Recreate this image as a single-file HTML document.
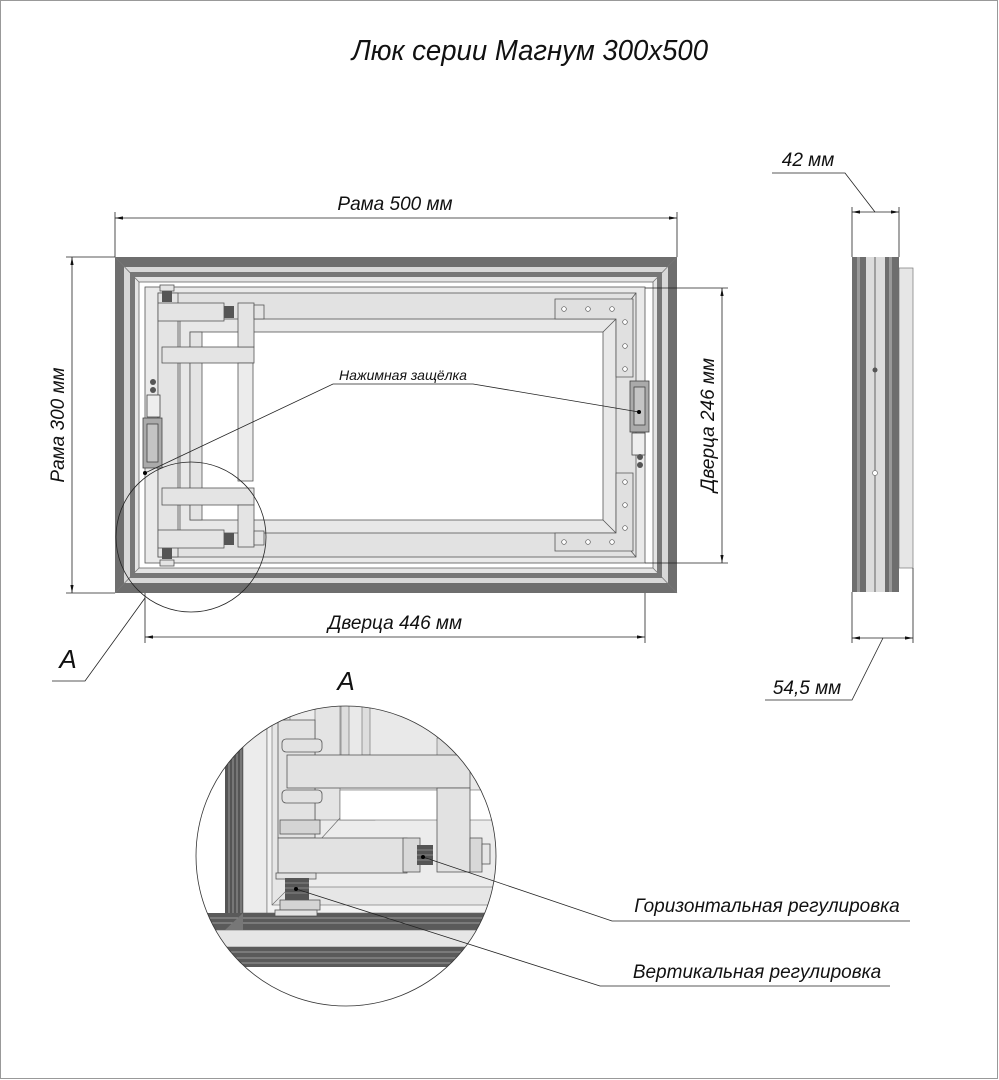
<!DOCTYPE html>
<html><head><meta charset="utf-8"><style>
html,body{margin:0;padding:0;background:#fff;width:999px;height:1080px;overflow:hidden}
svg{display:block}
text{font-family:"Liberation Sans",sans-serif;font-style:italic;fill:#111}
</style></head><body>
<svg width="999" height="1080" viewBox="0 0 999 1080" xmlns="http://www.w3.org/2000/svg">
<defs>
<marker id="ar" viewBox="0 0 10 6" refX="10" refY="3" markerWidth="10" markerHeight="6" orient="auto-start-reverse"><path d="M0,1 L10,3 L0,5 Z" fill="#111"/></marker>
<clipPath id="cc"><circle cx="346" cy="856" r="150"/></clipPath>
</defs>
<rect x="0.5" y="0.5" width="997" height="1078" fill="none" stroke="#999"/>

<!-- Title -->
<text x="530" y="60" font-size="29" text-anchor="middle" transform="translate(530 0) scale(0.95 1) translate(-530 0)">Люк серии Магнум 300x500</text>

<!-- Main frame -->
<rect x="115" y="257" width="562" height="336" fill="#6e6e6e"/>
<rect x="124" y="267" width="544" height="316" fill="#d8d8d8"/>
<rect x="130" y="272" width="532" height="306" fill="#777"/>
<rect x="135" y="277" width="522" height="296" fill="#e4e4e4"/>
<rect x="139" y="282" width="514" height="286" fill="#fff" stroke="#666" stroke-width="0.8"/>
<g stroke="#777" stroke-width="0.8">
<line x1="115" y1="257" x2="139" y2="282"/><line x1="677" y1="257" x2="653" y2="282"/>
<line x1="115" y1="593" x2="139" y2="568"/><line x1="677" y1="593" x2="653" y2="568"/>
</g>
<!-- door -->
<rect x="145" y="287" width="500" height="276" fill="#eaeaea" stroke="#555" stroke-width="0.8"/>
<rect x="158" y="293" width="478" height="264" fill="#e2e2e2" stroke="#555" stroke-width="0.8"/>
<rect x="180" y="319" width="436" height="214" fill="#e8e8e8" stroke="#555" stroke-width="0.8"/>
<rect x="190" y="332" width="413" height="188" fill="#fff" stroke="#555" stroke-width="0.8"/>
<g stroke="#555" stroke-width="0.8">
<line x1="158" y1="293" x2="180" y2="319"/><line x1="636" y1="293" x2="616" y2="319"/>
<line x1="158" y1="557" x2="180" y2="533"/><line x1="636" y1="557" x2="616" y2="533"/>
<line x1="603" y1="332" x2="616" y2="319"/><line x1="603" y1="520" x2="616" y2="533"/>
</g>
<!-- right corner plates -->
<g fill="#e0e0e0" stroke="#555" stroke-width="0.8">
<path d="M555,299 L633,299 L633,377 L616,377 L616,319 L555,319 Z"/>
<path d="M555,551 L633,551 L633,473 L616,473 L616,533 L555,533 Z"/>
</g>
<g fill="#fff" stroke="#555" stroke-width="0.7">
<circle cx="564" cy="309" r="2.3"/><circle cx="588" cy="309" r="2.3"/><circle cx="612" cy="309" r="2.3"/>
<circle cx="625" cy="322" r="2.3"/><circle cx="625" cy="346" r="2.3"/><circle cx="625" cy="369" r="2.3"/>
<circle cx="564" cy="542" r="2.3"/><circle cx="588" cy="542" r="2.3"/><circle cx="612" cy="542" r="2.3"/>
<circle cx="625" cy="482" r="2.3"/><circle cx="625" cy="505" r="2.3"/><circle cx="625" cy="528" r="2.3"/>
</g>
<!-- hinges left -->
<g fill="#e4e4e4" stroke="#555" stroke-width="0.8">
<rect x="158" y="293" width="20" height="264"/>
<rect x="190" y="332" width="12" height="188"/>
<rect x="158" y="303" width="66" height="18"/>
<rect x="162" y="347" width="92" height="16"/>
<rect x="238" y="303" width="16" height="44"/>
<rect x="238" y="363" width="15" height="118" fill="#ececec"/>
<rect x="162" y="488" width="92" height="17"/>
<rect x="238" y="505" width="16" height="42"/>
<rect x="158" y="530" width="66" height="18"/>
<rect x="254" y="305" width="10" height="14"/><rect x="254" y="531" width="10" height="14"/>
<rect x="160" y="285" width="14" height="6"/><rect x="160" y="560" width="14" height="6"/>
</g>
<g fill="#555">
<rect x="224" y="306" width="10" height="12"/><rect x="224" y="533" width="10" height="12"/>
<rect x="162" y="291" width="10" height="11"/><rect x="162" y="548" width="10" height="11"/>
</g>
<!-- latches -->
<g stroke="#444" stroke-width="0.8">
<rect x="143" y="418" width="19" height="50" fill="#aaa"/>
<rect x="147" y="424" width="11" height="38" fill="#c4c4c4"/>
<rect x="630" y="381" width="19" height="51" fill="#aaa"/>
<rect x="634" y="387" width="11" height="38" fill="#c4c4c4"/>
<rect x="147" y="395" width="13" height="22" fill="#eee"/>
<rect x="632" y="433" width="13" height="22" fill="#eee"/>
</g>
<g fill="#555"><circle cx="153" cy="390" r="3"/><circle cx="153" cy="382" r="3"/><circle cx="640" cy="457" r="3"/><circle cx="640" cy="465" r="3"/></g>

<!-- latch leader -->
<text x="403" y="380" font-size="14" text-anchor="middle">Нажимная защёлка</text>
<polyline points="145,473 333,384 473,384 639,412" fill="none" stroke="#222" stroke-width="0.8"/>
<circle cx="145" cy="473" r="2" fill="#000"/><circle cx="639" cy="412" r="2" fill="#000"/>

<!-- detail circle A on main -->
<circle cx="191" cy="537" r="75" fill="none" stroke="#222" stroke-width="0.8"/>
<polyline points="145,598 85,681 52,681" fill="none" stroke="#222" stroke-width="0.8"/>
<text x="68" y="668" font-size="26" text-anchor="middle" font-style="normal">A</text>
<text x="346" y="690" font-size="26" text-anchor="middle" font-style="normal">A</text>

<!-- dimensions -->
<g stroke="#222" stroke-width="0.8" fill="none">
<line x1="115" y1="212" x2="115" y2="257"/><line x1="677" y1="212" x2="677" y2="257"/>
<line x1="115" y1="218" x2="677" y2="218" marker-start="url(#ar)" marker-end="url(#ar)"/>
<line x1="66" y1="257" x2="115" y2="257"/><line x1="66" y1="593" x2="115" y2="593"/>
<line x1="72" y1="257" x2="72" y2="593" marker-start="url(#ar)" marker-end="url(#ar)"/>
<line x1="645" y1="288" x2="728" y2="288"/><line x1="645" y1="563" x2="728" y2="563"/>
<line x1="722" y1="288" x2="722" y2="563" marker-start="url(#ar)" marker-end="url(#ar)"/>
<line x1="145" y1="593" x2="145" y2="643"/><line x1="645" y1="593" x2="645" y2="643"/>
<line x1="145" y1="637" x2="645" y2="637" marker-start="url(#ar)" marker-end="url(#ar)"/>
</g>
<text x="395" y="210" font-size="19" text-anchor="middle">Рама 500 мм</text>
<text x="395" y="629" font-size="19" text-anchor="middle">Дверца 446 мм</text>
<text x="0" y="0" font-size="19" text-anchor="middle" transform="translate(64 425) rotate(-90)">Рама 300 мм</text>
<text x="0" y="0" font-size="19" text-anchor="middle" transform="translate(714 425) rotate(-90)">Дверца 246 мм</text>

<!-- side view -->
<rect x="899" y="268" width="14" height="300" fill="#e6e6e6" stroke="#777" stroke-width="0.7"/>
<rect x="852" y="257" width="47" height="335" fill="#6e6e6e"/>
<rect x="857" y="257" width="3" height="335" fill="#999"/>
<rect x="866" y="257" width="19" height="335" fill="#dcdcdc"/>
<rect x="889" y="257" width="3" height="335" fill="#999"/>
<line x1="875" y1="257" x2="875" y2="592" stroke="#444" stroke-width="0.8"/>
<circle cx="875" cy="370" r="2.5" fill="#555"/><circle cx="875" cy="473" r="2.5" fill="#fff" stroke="#777" stroke-width="0.7"/>
<g stroke="#222" stroke-width="0.8" fill="none">
<line x1="852" y1="207" x2="852" y2="257"/><line x1="899" y1="207" x2="899" y2="257"/>
<line x1="852" y1="212" x2="899" y2="212" marker-start="url(#ar)" marker-end="url(#ar)"/>
<polyline points="772,173 845,173 875,212"/>
<line x1="852" y1="592" x2="852" y2="643"/><line x1="913" y1="568" x2="913" y2="643"/>
<line x1="852" y1="638" x2="913" y2="638" marker-start="url(#ar)" marker-end="url(#ar)"/>
<polyline points="765,700 852,700 883,638"/>
</g>
<text x="808" y="166" font-size="19" text-anchor="middle">42 мм</text>
<text x="807" y="694" font-size="19" text-anchor="middle">54,5 мм</text>

<!-- detail view -->
<g clip-path="url(#cc)">
<rect x="190" y="700" width="320" height="320" fill="#fff"/>
<!-- frame stripes left -->
<rect x="190" y="700" width="35" height="320" fill="#fff"/>
<g fill="#555">
<rect x="225" y="700" width="18" height="230"/>
</g>
<g stroke="#999" stroke-width="1"><line x1="229" y1="700" x2="229" y2="930"/><line x1="233" y1="700" x2="233" y2="930"/><line x1="237" y1="700" x2="237" y2="930"/><line x1="241" y1="700" x2="241" y2="930"/></g>
<rect x="243" y="700" width="24" height="213" fill="#ececec" stroke="#666" stroke-width="0.6"/>
<rect x="190" y="913" width="320" height="17" fill="#5a5a5a"/>
<rect x="190" y="930" width="320" height="17" fill="#e6e6e6" stroke="#666" stroke-width="0.6"/>
<rect x="190" y="947" width="320" height="20" fill="#5a5a5a"/>
<g stroke="#999" stroke-width="1"><line x1="190" y1="918" x2="510" y2="918"/><line x1="190" y1="923" x2="510" y2="923"/><line x1="190" y1="952" x2="510" y2="952"/><line x1="190" y1="958" x2="510" y2="958"/><line x1="190" y1="963" x2="510" y2="963"/></g>
<rect x="190" y="967" width="320" height="60" fill="#fff"/>
<polygon points="225,930 243,913 243,930" fill="#777"/>
<!-- inner door frame -->
<rect x="267" y="700" width="243" height="213" fill="#f2f2f2" stroke="#666" stroke-width="0.6"/>
<rect x="272" y="700" width="238" height="205" fill="#e6e6e6" stroke="#666" stroke-width="0.6"/>
<line x1="272" y1="905" x2="290" y2="887" stroke="#666" stroke-width="0.6"/>
<rect x="290" y="700" width="220" height="187" fill="#ececec" stroke="#666" stroke-width="0.6"/>
<rect x="315" y="700" width="60" height="120" fill="#e4e4e4" stroke="#666" stroke-width="0.6"/>
<rect x="340" y="700" width="170" height="118" fill="#e9e9e9" stroke="#666" stroke-width="0.6"/>
<rect x="340" y="790" width="170" height="30" fill="#fff" stroke="#666" stroke-width="0.6"/>
<line x1="320" y1="840" x2="340" y2="818" stroke="#666" stroke-width="0.6"/>
<rect x="341" y="700" width="8" height="55" fill="#ddd" stroke="#666" stroke-width="0.6"/>
<rect x="362" y="700" width="8" height="55" fill="#ddd" stroke="#666" stroke-width="0.6"/>
<rect x="437" y="738" width="33" height="18" fill="#ddd" stroke="#666" stroke-width="0.6"/>
<!-- hinge parts -->
<g fill="#e2e2e2" stroke="#555" stroke-width="0.8">
<rect x="278" y="720" width="37" height="118"/>
<rect x="287" y="755" width="183" height="33"/>
<rect x="437" y="788" width="33" height="84"/>
<rect x="278" y="838" width="129" height="35"/>
<rect x="403" y="838" width="17" height="34" fill="#d8d8d8"/>
<rect x="470" y="838" width="12" height="34" fill="#d8d8d8"/>
<rect x="482" y="844" width="8" height="20" fill="#e6e6e6"/>
<rect x="282" y="739" width="40" height="13" rx="4"/>
<rect x="282" y="790" width="40" height="13" rx="4"/>
<rect x="280" y="820" width="40" height="14" fill="#d4d4d4"/>
<rect x="276" y="873" width="40" height="6"/>
<rect x="280" y="900" width="40" height="10" fill="#d4d4d4"/>
<rect x="275" y="910" width="42" height="6"/>
</g>
<rect x="417" y="845" width="16" height="20" fill="#555"/>
<rect x="285" y="878" width="24" height="22" fill="#555"/>
<g stroke="#999" stroke-width="0.8"><line x1="417" y1="850" x2="433" y2="850"/><line x1="417" y1="855" x2="433" y2="855"/><line x1="417" y1="860" x2="433" y2="860"/>
<line x1="285" y1="883" x2="309" y2="883"/><line x1="285" y1="888" x2="309" y2="888"/><line x1="285" y1="893" x2="309" y2="893"/></g>
</g>
<circle cx="346" cy="856" r="150" fill="none" stroke="#333" stroke-width="0.8"/>

<!-- detail leaders -->
<g stroke="#222" stroke-width="0.8" fill="none">
<polyline points="423,857 612,921 910,921"/>
<polyline points="296,889 600,986 890,986"/>
</g>
<circle cx="423" cy="857" r="2" fill="#000"/><circle cx="296" cy="889" r="2" fill="#000"/>
<text x="767" y="912" font-size="19" text-anchor="middle">Горизонтальная регулировка</text>
<text x="757" y="978" font-size="19" text-anchor="middle">Вертикальная регулировка</text>
</svg>
</body></html>
